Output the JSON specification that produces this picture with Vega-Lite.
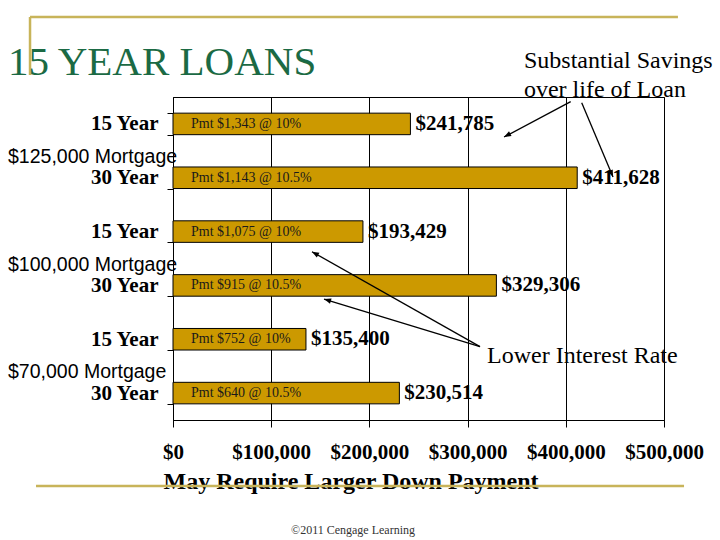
{
  "$schema": "https://vega.github.io/schema/vega-lite/v6.json",
  "width": 491,
  "height": 323,
  "autosize": {"type": "none"},
  "padding": {"left": 173, "top": 97, "right": 56, "bottom": 120},
  "background": "white",
  "config": {"view": {"stroke": "black", "strokeWidth": 1}, "font": "Liberation Serif"},
  "datasets": {
    "loans": [
      {"loan": "$125,000 Mortgage, 15 Year", "mortgage": "$125,000 Mortgage", "term": "15 Year", "total": 241785, "payment": "Pmt $1,343 @ 10%"},
      {"loan": "$125,000 Mortgage, 30 Year", "mortgage": "$125,000 Mortgage", "term": "30 Year", "total": 411628, "payment": "Pmt $1,143 @ 10.5%"},
      {"loan": "$100,000 Mortgage, 15 Year", "mortgage": "$100,000 Mortgage", "term": "15 Year", "total": 193429, "payment": "Pmt $1,075 @ 10%"},
      {"loan": "$100,000 Mortgage, 30 Year", "mortgage": "$100,000 Mortgage", "term": "30 Year", "total": 329306, "payment": "Pmt $915 @ 10.5%"},
      {"loan": "$70,000 Mortgage, 15 Year", "mortgage": "$70,000 Mortgage", "term": "15 Year", "total": 135400, "payment": "Pmt $752 @ 10%"},
      {"loan": "$70,000 Mortgage, 30 Year", "mortgage": "$70,000 Mortgage", "term": "30 Year", "total": 230514, "payment": "Pmt $640 @ 10.5%"}
    ],
    "decor": [
      {"x": -145600, "x2": 514200, "y": -1.486, "y2": -1.486},
      {"x": -145600, "x2": -145600, "y": -1.486, "y2": -0.409},
      {"x": -139500, "x2": 520400, "y": 7.226, "y2": 7.226}
    ],
    "arrows": [
      {"id": "a1", "x": 405000, "y": 0.087, "x2": 337100, "y2": 0.743},
      {"id": "a2", "x": 416200, "y": 0.106, "x2": 448100, "y2": 1.486},
      {"id": "a3", "x": 312600, "y": 4.638, "x2": 141500, "y2": 2.874},
      {"id": "a4", "x": 312600, "y": 4.638, "x2": 153800, "y2": 3.753}
    ],
    "headline": [
      {"text": "15 YEAR LOANS", "x": -168100, "y": -0.409}
    ],
    "notes": [
      {"text": "Substantial Savings", "x": 357400, "y": -0.539},
      {"text": "over life of Loan", "x": 357400, "y": 0.0},
      {"text": "Lower Interest Rate", "x": 319800, "y": 4.95}
    ],
    "credit": [
      {"text": "©2011 Cengage Learning", "x": 120200, "y": 8.04}
    ]
  },
  "layer": [
    {
      "data": {"name": "loans"},
      "encoding": {
        "y": {
          "field": "loan",
          "type": "nominal",
          "sort": null,
          "scale": {"paddingInner": 0.6, "paddingOuter": 0.3},
          "axis": {
            "title": null,
            "labelExpr": "split(datum.label, ', ')[1]",
            "labelFont": "Liberation Serif",
            "labelFontSize": 21,
            "labelFontWeight": "bold",
            "labelColor": "black",
            "tickBand": "extent",
            "tickSize": 6,
            "tickColor": "black",
            "domainColor": "black",
            "labelPadding": 9,
            "grid": false
          }
        }
      },
      "layer": [
        {
          "mark": {"type": "bar", "color": "#CC9900", "stroke": "black", "strokeWidth": 1},
          "encoding": {
            "x": {
              "field": "total",
              "type": "quantitative",
              "scale": {"domain": [0, 500000], "nice": false},
              "axis": {
                "values": [0, 100000, 200000, 300000, 400000, 500000],
                "format": "$,.0f",
                "labelFont": "Liberation Serif",
                "labelFontSize": 21,
                "labelFontWeight": "bold",
                "labelColor": "black",
                "labelFlush": false,
                "labelPadding": 14,
                "tickSize": 7,
                "tickColor": "black",
                "domainColor": "black",
                "grid": true,
                "gridColor": "black",
                "gridOpacity": 1,
                "title": "May Require Larger Down Payment",
                "titleFont": "Liberation Serif",
                "titleFontSize": 24,
                "titleFontWeight": "bold",
                "titleColor": "black",
                "titleAnchor": "start",
                "titleAlign": "left",
                "titleBaseline": "alphabetic",
                "titleX": -10,
                "titleY": 68
              }
            }
          }
        },
        {
          "mark": {"type": "text", "align": "left", "baseline": "middle", "dx": 5, "font": "Liberation Serif", "fontSize": 21, "fontWeight": "bold", "color": "black"},
          "encoding": {
            "x": {"field": "total", "type": "quantitative"},
            "text": {"field": "total", "type": "quantitative", "format": "$,.0f"}
          }
        },
        {
          "mark": {"type": "text", "align": "left", "baseline": "middle", "dx": 18, "font": "Liberation Serif", "fontSize": 14, "color": "#1a1a1a"},
          "encoding": {
            "x": {"datum": 0, "type": "quantitative"},
            "text": {"field": "payment", "type": "nominal"}
          }
        },
        {
          "transform": [{"filter": "datum.term == '30 Year'"}],
          "mark": {"type": "text", "align": "left", "baseline": "middle", "dy": -10, "font": "Liberation Sans", "fontSize": 19.5, "color": "black"},
          "encoding": {
            "x": {"datum": -168000, "type": "quantitative"},
            "y": {"field": "loan", "type": "nominal", "sort": null, "bandPosition": 0},
            "text": {"field": "mortgage", "type": "nominal"}
          }
        }
      ]
    },
    {
      "layer": [
        {
          "data": {"name": "decor"},
          "mark": {"type": "rule", "color": "#C8B45A", "strokeWidth": 2.5},
          "encoding": {
            "x": {"field": "x", "type": "quantitative", "scale": {"domain": [0, 500000], "nice": false}},
            "x2": {"field": "x2"},
            "y": {"field": "y", "type": "quantitative", "scale": {"domain": [0, 6], "reverse": true, "nice": false, "zero": false}, "axis": null},
            "y2": {"field": "y2"}
          }
        },
        {
          "data": {"name": "arrows"},
          "mark": {"type": "rule", "color": "black", "strokeWidth": 1.3},
          "encoding": {
            "x": {"field": "x", "type": "quantitative"},
            "x2": {"field": "x2"},
            "y": {"field": "y", "type": "quantitative", "axis": null},
            "y2": {"field": "y2"}
          }
        },
        {
          "data": {"name": "arrows"},
          "transform": [{"filter": "datum.id == 'a1'"}],
          "mark": {"type": "point", "filled": true, "color": "black", "opacity": 1, "size": 200, "shape": "M0,0L-0.38,1L0.38,1Z", "angle": 242},
          "encoding": {
            "x": {"field": "x2", "type": "quantitative"},
            "y": {"field": "y2", "type": "quantitative", "axis": null}
          }
        },
        {
          "data": {"name": "arrows"},
          "transform": [{"filter": "datum.id == 'a2'"}],
          "mark": {"type": "point", "filled": true, "color": "black", "opacity": 1, "size": 200, "shape": "M0,0L-0.38,1L0.38,1Z", "angle": 157},
          "encoding": {
            "x": {"field": "x2", "type": "quantitative"},
            "y": {"field": "y2", "type": "quantitative", "axis": null}
          }
        },
        {
          "data": {"name": "arrows"},
          "transform": [{"filter": "datum.id == 'a3'"}],
          "mark": {"type": "point", "filled": true, "color": "black", "opacity": 1, "size": 200, "shape": "M0,0L-0.38,1L0.38,1Z", "angle": 299.5},
          "encoding": {
            "x": {"field": "x2", "type": "quantitative"},
            "y": {"field": "y2", "type": "quantitative", "axis": null}
          }
        },
        {
          "data": {"name": "arrows"},
          "transform": [{"filter": "datum.id == 'a4'"}],
          "mark": {"type": "point", "filled": true, "color": "black", "opacity": 1, "size": 200, "shape": "M0,0L-0.38,1L0.38,1Z", "angle": 287},
          "encoding": {
            "x": {"field": "x2", "type": "quantitative"},
            "y": {"field": "y2", "type": "quantitative", "axis": null}
          }
        },
        {
          "data": {"name": "headline"},
          "mark": {"type": "text", "align": "left", "baseline": "alphabetic", "font": "Liberation Serif", "fontSize": 41, "color": "#1B6A44"},
          "encoding": {
            "x": {"field": "x", "type": "quantitative"},
            "y": {"field": "y", "type": "quantitative", "axis": null},
            "text": {"field": "text", "type": "nominal"}
          }
        },
        {
          "data": {"name": "notes"},
          "mark": {"type": "text", "align": "left", "baseline": "alphabetic", "font": "Liberation Serif", "fontSize": 24, "color": "black"},
          "encoding": {
            "x": {"field": "x", "type": "quantitative"},
            "y": {"field": "y", "type": "quantitative", "axis": null},
            "text": {"field": "text", "type": "nominal"}
          }
        },
        {
          "data": {"name": "credit"},
          "mark": {"type": "text", "align": "left", "baseline": "middle", "font": "Liberation Serif", "fontSize": 12, "color": "#333333"},
          "encoding": {
            "x": {"field": "x", "type": "quantitative"},
            "y": {"field": "y", "type": "quantitative", "axis": null},
            "text": {"field": "text", "type": "nominal"}
          }
        }
      ]
    }
  ],
  "resolve": {"scale": {"y": "independent"}}
}
